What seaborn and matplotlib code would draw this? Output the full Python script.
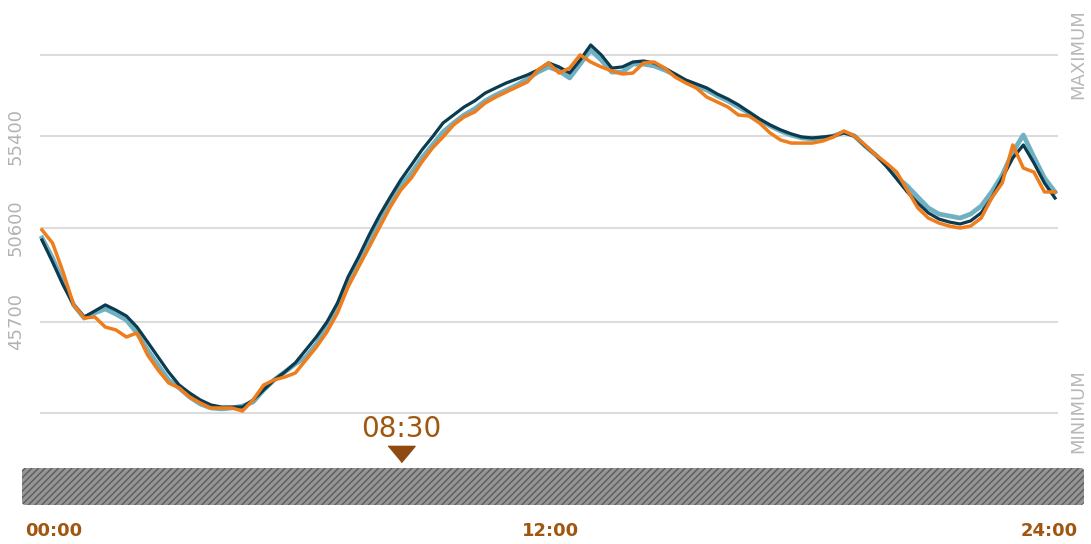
import numpy as np
import pandas as pd
import matplotlib
matplotlib.use("Agg")
import matplotlib.pyplot as plt
import matplotlib.transforms as mtransforms
from matplotlib.patches import FancyBboxPatch
import seaborn as sns

# time of day in hours, one reading every 15 minutes
hours = np.arange(97) * 0.25

navy_values = [
    49970, 48820, 47610, 46570, 45940, 46250, 46570, 46300, 45990, 45410,
    44630, 43840, 43050, 42370, 41950, 41590, 41330, 41220, 41220, 41220,
    41590, 42110, 42640, 43050, 43530, 44210, 44890, 45670, 46670, 48030,
    49080, 50230, 51280, 52220, 53120, 53900, 54690, 55370, 56100, 56520,
    56940, 57260, 57670, 57940, 58200, 58410, 58620, 58880, 59250, 59040,
    58720, 59400, 60190, 59670, 58980, 59040, 59300, 59350, 59250, 58980,
    58670, 58360, 58150, 57940, 57620, 57360, 57050, 56680, 56310, 56000,
    55740, 55530, 55370, 55320, 55370, 55420, 55580, 55420, 54900, 54430,
    53850, 53170, 52490, 51910, 51390, 51070, 50910, 50810, 50970, 51390,
    52170, 53220, 54270, 54950, 54010, 52960, 52170,
]

teal_values = [
    50080, 49030, 47770, 46570, 45880, 46150, 46360, 46090, 45780, 45100,
    44210, 43420, 42640, 42220, 41740, 41380, 41170, 41120, 41170, 41270,
    41480, 42110, 42640, 43050, 43470, 43840, 44520, 45360, 46360, 47670,
    48770, 49810, 50910, 51910, 52800, 53480, 54270, 54950, 55630, 56100,
    56520, 56840, 57260, 57570, 57830, 58090, 58410, 58770, 59040, 58830,
    58460, 59190, 59930, 59400, 58770, 58770, 59190, 59190, 59090, 58880,
    58620, 58300, 58040, 57830, 57520, 57260, 56940, 56630, 56260, 55950,
    55680, 55470, 55320, 55260, 55320, 55420, 55630, 55420, 54900, 54430,
    53900, 53270, 52800, 52220, 51650, 51330, 51230, 51120, 51330, 51750,
    52490, 53380, 54580, 55470, 54320, 53220, 52490,
]

orange_values = [
    50500, 49810, 48290, 46570, 45880, 45940, 45410, 45260, 44890, 45100,
    43950, 43160, 42480, 42220, 41740, 41430, 41170, 41170, 41170, 41010,
    41590, 42370, 42640, 42790, 43000, 43680, 44360, 45150, 46150, 47510,
    48560, 49600, 50650, 51700, 52590, 53220, 54060, 54790, 55370, 56000,
    56420, 56680, 57150, 57460, 57730, 57990, 58250, 58880, 59250, 58720,
    58980, 59670, 59300, 59040, 58830, 58670, 58720, 59250, 59300, 58980,
    58510, 58200, 57940, 57460, 57200, 56940, 56520, 56470, 56100, 55580,
    55210, 55050, 55050, 55050, 55160, 55370, 55680, 55420, 54950, 54430,
    54010, 53530, 52590, 51650, 51120, 50860, 50700, 50600, 50700, 51120,
    52170, 52960, 54950, 53740, 53530, 52490, 52490,
]

grid_values = [40900, 45700, 50600, 55400, 59670]
grid_labels = ["", "45700", "50600", "55400", ""]
hour_labels = ["00:00", "12:00", "24:00"]
marker_hour = 8.5
marker_label = "08:30"

df = pd.DataFrame({
    "hour": np.concatenate([hours, hours, hours]),
    "value": navy_values + teal_values + orange_values,
    "series": ["navy"] * 97 + ["teal"] * 97 + ["orange"] * 97,
})

plt.rcParams["hatch.linewidth"] = 1.0
plt.rcParams["hatch.color"] = "#5c5c5c"

brown = "#a0560f"
fig = plt.figure(figsize=(10.91, 5.44), dpi=100)
ax = fig.add_axes([40 / 1091, 1 - 420 / 544, 1018 / 1091, 390 / 544])

# teal underneath, then navy, orange on top
sns.lineplot(data=df[df.series == "teal"], x="hour", y="value", color="#6fb1c2",
             linewidth=3.4, ax=ax, clip_on=False)
sns.lineplot(data=df[df.series == "navy"], x="hour", y="value", color="#0c3a4e",
             linewidth=2.3, ax=ax, clip_on=False)
sns.lineplot(data=df[df.series == "orange"], x="hour", y="value", color="#f07d1c",
             linewidth=2.5, ax=ax, clip_on=False)

ax.set_xlim(-2 / 42.21, 24 + 3 / 42.21)
ax.set_ylim(50600 - 192 * 52.4, 50600 + 198 * 52.4)
ax.set_yticks(grid_values)
ax.set_yticklabels(grid_labels, rotation=90, va="center", color="#b3b3b3", fontsize=13)
ax.set_xticks([])
ax.tick_params(axis="y", length=0, pad=11)
ax.grid(axis="y", color="#dcdcdc", linewidth=1.5)
ax.set_axisbelow(True)
ax.set_xlabel("")
ax.set_ylabel("")
for s in ax.spines.values():
    s.set_visible(False)

# MAXIMUM / MINIMUM labels on the right
fig.text(1078 / 1091, 1 - 54 / 544, "MAXIMUM", rotation=90, ha="center", va="center",
         color="#b8b8b8", fontsize=13)
fig.text(1078 / 1091, 1 - 411 / 544, "MINIMUM", rotation=90, ha="center", va="center",
         color="#b8b8b8", fontsize=13)

# hatched time bar
bar = FancyBboxPatch((0.22, 0.39), 10.62, 0.37,
                     boxstyle="round,pad=0,rounding_size=0.03",
                     transform=fig.dpi_scale_trans, facecolor="#959595",
                     edgecolor="#5c5c5c", linewidth=0, hatch="/////")
fig.patches.append(bar)

# 08:30 marker
trans = mtransforms.blended_transform_factory(ax.transData, fig.transFigure)
ax.plot([marker_hour], [1 - 454 / 544], transform=trans, clip_on=False,
        marker=[(-1, 0.6), (1, 0.6), (0, -0.6)], markersize=19.5,
        color="#8e4a10", linestyle="none")
ax.text(marker_hour, 1 - 429 / 544, marker_label, transform=trans, ha="center",
        va="center", color=brown, fontsize=20)

# hour labels under the bar
fig.text(25 / 1091, 1 - 531 / 544, hour_labels[0], ha="left", va="center",
         color=brown, fontsize=13, fontweight="bold")
fig.text(550 / 1091, 1 - 531 / 544, hour_labels[1], ha="center", va="center",
         color=brown, fontsize=13, fontweight="bold")
fig.text(1078 / 1091, 1 - 531 / 544, hour_labels[2], ha="right", va="center",
         color=brown, fontsize=13, fontweight="bold")

fig.savefig("out.png", dpi=100)
